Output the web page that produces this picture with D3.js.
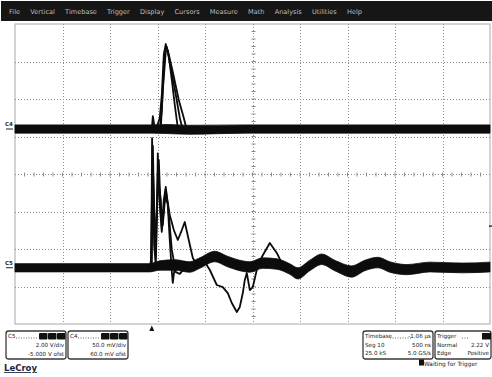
<!DOCTYPE html>
<html><head><meta charset="utf-8">
<script src="https://cdn.jsdelivr.net/npm/d3@7"></script>
<style>
html,body{margin:0;padding:0;background:#fff;}
svg{display:block;font-family:"DejaVu Sans",sans-serif;}
</style></head><body>
<svg id="scope" width="492" height="377"></svg>
<script>
// ---- instrument settings ----
const menuItems = ["File","Vertical","Timebase","Trigger","Display","Cursors","Measure","Math","Analysis","Utilities","Help"];
const timePerDiv = 0.5;      // µs/div
const triggerDelay = -1.06;  // µs
const c4PerDiv = 50;         // mV/div
const c4Offset = 60;         // mV
const c5PerDiv = 2;          // V/div
const c5Offset = -5;         // V
const triggerLevel = 2.22;   // V

// ---- C4 (mV): persistence band [t µs, centre mV, half-width mV] ----
const c4Band = [[-1.44,0,5.5],[0,0,5.5],[0.15,0,6],[0.4,-1,6],[1.0,0,5.5],[2.0,0,5.5],[3.56,0,5.5]];
// C4 pulse acquisitions [t µs, mV]
const c4TraceA = [[0.0,0],[0.011,17],[0.032,0],[0.063,6.7],[0.084,14.7],[0.105,45.3],[0.126,98.7],[0.147,113.3],[0.179,97.3],[0.211,65.3],[0.242,32],[0.274,1.3],[0.305,-2.7],[0.358,0]];
const c4TraceB = [[0.084,1.3],[0.105,25.3],[0.137,105.3],[0.158,109.3],[0.2,81.3],[0.253,45.3],[0.295,14.7],[0.326,-1.3],[0.379,0]];
const c4TraceC = [[0.095,1.3],[0.116,52],[0.147,102.7],[0.168,105.3],[0.221,76],[0.284,38.7],[0.337,14.7],[0.368,-1.3],[0.4,0]];

// ---- C5 (V): persistence band [t µs, centre V, half-width V] ----
const c5Band = [[-1.44,0,0.22],[-0.021,0,0.22],[0.084,0.12,0.25],[0.242,0.15,0.28],[0.4,0.04,0.28],[0.505,0.25,0.28],[0.663,0.6,0.28],[0.789,0.35,0.28],[0.926,0.12,0.28],[1.032,0.04,0.28],[1.168,0.25,0.28],[1.316,0.2,0.28],[1.453,-0.07,0.28],[1.537,-0.3,0.3],[1.663,0.12,0.28],[1.789,0.45,0.28],[1.926,0.12,0.28],[2.105,-0.2,0.3],[2.242,0.12,0.28],[2.379,0.28,0.28],[2.505,0.04,0.28],[2.684,-0.1,0.27],[2.926,0.04,0.26],[3.274,-0.01,0.26],[3.56,0.04,0.26]];
// C5 transient acquisitions [t µs, V]
const c5Trace1 = [[-0.021,0],[-0.005,0.5],[0.003,6.91],[0.013,4.0],[0.025,1.2],[0.042,0.09],[0.055,3.0],[0.063,6.1],[0.074,4.5],[0.095,3.61],[0.105,2.12],[0.126,3.61],[0.147,4.31],[0.168,3.35],[0.189,1.48],[0.211,-0.23],[0.221,-0.81],[0.242,0.09],[0.274,0.31],[0.347,0.31],[0.4,0.09]];
const c5Trace2 = [[-0.011,0],[0.011,6.5],[0.032,0.95],[0.053,3.08],[0.074,5.75],[0.095,2.81],[0.116,2.28],[0.147,4.15],[0.189,2.81],[0.232,2.01],[0.274,1.48],[0.316,2.01],[0.347,2.44],[0.389,1.48],[0.432,0.52],[0.484,0.09]];
const c5Trace3 = [[0,0],[0.011,5.48],[0.042,0.68],[0.063,5.11],[0.084,3.35],[0.105,1.91],[0.137,3.72],[0.168,3.45],[0.211,0.95],[0.253,-0.23],[0.295,-0.33],[0.347,-0.01],[0.453,-0.01],[0.558,0.31],[0.611,-0.12],[0.684,-0.92],[0.747,-1.03],[0.8,-1.35],[0.842,-1.88],[0.895,-2.36],[0.926,-2.09],[0.958,-1.35],[0.979,-0.65],[1.0,-0.28],[1.032,-1.19],[1.063,-1.03],[1.105,-0.12],[1.158,0.57],[1.242,1.32],[1.316,0.79],[1.368,0.25],[1.453,-0.01]];

// ---- readout boxes ----
const c5Readout = ["C5","2.00 V/div","-5.000 V ofst"];
const c4Readout = ["C4","50.0 mV/div","60.0 mV ofst"];
const tbReadout = [["Timebase","-1.06 µs"],["Seg 10","500 ns"],["25.0 kS","5.0 GS/s"]];
const trReadout = [["Trigger",""],["Normal","2.22 V"],["Edge","Positive"]];
const statusText = "Waiting for Trigger";

const svg = d3.select("#scope");
const screen = {l:15, r:490, t:24, b:324};

// ---- scales ----
const tCentre = -triggerDelay;
const x = d3.scaleLinear().domain([tCentre - 5*timePerDiv, tCentre + 5*timePerDiv]).range([screen.l, screen.r]);
const yC4 = d3.scaleLinear().domain([-c4Offset - 4*c4PerDiv, -c4Offset + 4*c4PerDiv]).range([screen.b, screen.t]);
const yC5 = d3.scaleLinear().domain([-c5Offset - 4*c5PerDiv, -c5Offset + 4*c5PerDiv]).range([screen.b, screen.t]);

// ---- menu bar ----
svg.append("rect").attr("x",1).attr("y",1).attr("width",491).attr("height",20).attr("fill","#161616");
const menu = svg.append("g").attr("font-size",6.6).attr("fill","#bdbdbd");
const mNodes = menu.selectAll("text").data(menuItems).join("text").attr("y",13.5).text(d=>d);
{
  const widths = mNodes.nodes().map(n=>n.getComputedTextLength());
  const total = d3.sum(widths);
  const gap = (362 - 9 - total)/(menuItems.length-1);
  let cx = 9;
  mNodes.attr("x",(d,i)=>{const v=cx; cx += widths[i]+gap; return v;});
}

// ---- graticule ----
const grid = svg.append("g");
grid.append("rect").attr("x",screen.l).attr("y",screen.t).attr("width",screen.r-screen.l).attr("height",screen.b-screen.t)
  .attr("fill","#fff").attr("stroke","#a8a8a8").attr("stroke-width",1);
const vDivs = d3.range(1,10).map(i => x.domain()[0] + i*timePerDiv);
const hDivs = d3.range(1,8).map(j => yC5.domain()[0] + j*c5PerDiv);
grid.selectAll("line.v").data(vDivs).join("line").attr("class","v")
  .attr("x1",d=>Math.round(x(d))+0.5).attr("x2",d=>Math.round(x(d))+0.5)
  .attr("y1",screen.t).attr("y2",screen.b)
  .attr("stroke","#8c8c8c").attr("stroke-dasharray","1,2");
grid.selectAll("line.h").data(hDivs).join("line").attr("class","h")
  .attr("y1",d=>Math.round(yC5(d))+0.5).attr("y2",d=>Math.round(yC5(d))+0.5)
  .attr("x1",screen.l).attr("x2",screen.r)
  .attr("stroke","#8c8c8c").attr("stroke-dasharray","1,2");
// minor ticks on centre axes
const cx0 = Math.round(x(tCentre))+0.5, cy0 = Math.round(yC5(-c5Offset))+0.5;
const minorX = d3.range(1,50).map(i => x.domain()[0] + i*timePerDiv/5);
const minorY = d3.range(1,40).map(j => yC5.domain()[0] + j*c5PerDiv/5);
grid.selectAll("line.mx").data(minorX).join("line").attr("class","mx")
  .attr("x1",d=>x(d)).attr("x2",d=>x(d)).attr("y1",cy0-2).attr("y2",cy0+2).attr("stroke","#8c8c8c");
grid.selectAll("line.my").data(minorY).join("line").attr("class","my")
  .attr("y1",d=>yC5(d)).attr("y2",d=>yC5(d)).attr("x1",cx0-2).attr("x2",cx0+2).attr("stroke","#8c8c8c");

// ---- traces ----
const traces = svg.append("g");
function band(data, y){
  return d3.area().curve(d3.curveMonotoneX).x(d=>x(d[0])).y0(d=>y(d[1]-d[2])).y1(d=>y(d[1]+d[2]))(data);
}
function line(data, y){
  return d3.line().x(d=>x(d[0])).y(d=>y(d[1]))(data);
}
traces.append("path").attr("d",band(c4Band,yC4)).attr("fill","#0c0c0c").attr("stroke","#0c0c0c").attr("stroke-width",0.8);
traces.append("path").attr("d",band(c5Band,yC5)).attr("fill","#0c0c0c").attr("stroke","#0c0c0c").attr("stroke-width",0.8);
[c5Trace1,c5Trace2,c5Trace3].forEach(tr=>{
  traces.append("path").attr("d",line(tr,yC5)).attr("fill","none").attr("stroke","#0c0c0c").attr("stroke-width",1.8).attr("stroke-linejoin","round");
});
[c4TraceA,c4TraceB,c4TraceC].forEach(tr=>{
  traces.append("path").attr("d",line(tr,yC4)).attr("fill","none").attr("stroke","#0c0c0c").attr("stroke-width",1.8).attr("stroke-linejoin","round");
});

// ---- channel ground markers ----
const marks = svg.append("g").attr("font-size",5.5).attr("font-weight","bold").attr("fill","#222");
[["C4",yC4(0)],["C5",yC5(0)]].forEach(([lab,yy])=>{
  marks.append("text").attr("x",5).attr("y",yy-3).text(lab);
  marks.append("line").attr("x1",6).attr("x2",13).attr("y1",yy).attr("y2",yy).attr("stroke","#222").attr("stroke-width",1);
});
// trigger level marker on right edge
svg.append("line").attr("x1",489).attr("x2",492).attr("y1",yC5(triggerLevel)).attr("y2",yC5(triggerLevel)).attr("stroke","#333").attr("stroke-width",1.5);
// trigger position marker
const tx = x(0);
svg.append("path").attr("d",`M${tx-2.5},331L${tx+2.5},331L${tx},325.5Z`).attr("fill","#111");

// ---- readout boxes ----
function chanBox(x0, lines){
  const g = svg.append("g").attr("font-size",5.6).attr("fill","#222");
  g.append("rect").attr("x",x0).attr("y",331).attr("width",60).attr("height",28).attr("rx",2.5)
    .attr("fill","#fff").attr("stroke","#3a3a3a").attr("stroke-width",1.3);
  g.append("text").attr("x",x0+2).attr("y",338).text(lines[0]);
  g.append("line").attr("x1",x0+10).attr("x2",x0+32).attr("y1",338).attr("y2",338).attr("stroke","#666").attr("stroke-dasharray","1,1.5");
  [0,9,18].forEach(o=>g.append("rect").attr("x",x0+33+o).attr("y",333).attr("width",8.5).attr("height",6.5).attr("rx",1).attr("fill","#111"));
  g.append("text").attr("x",x0+58).attr("y",347).attr("text-anchor","end").text(lines[1]);
  g.append("text").attr("x",x0+58).attr("y",355.5).attr("text-anchor","end").text(lines[2]);
}
chanBox(6, c5Readout);
chanBox(68, c4Readout);

function infoBox(x0, w, rows, headBlock){
  const g = svg.append("g").attr("font-size",5.6).attr("fill","#222");
  g.append("rect").attr("x",x0).attr("y",331).attr("width",w).attr("height",28).attr("rx",2.5)
    .attr("fill","#fff").attr("stroke","#3a3a3a").attr("stroke-width",1.3);
  rows.forEach((r,i)=>{
    const yy = 338 + i*8.5;
    g.append("text").attr("x",x0+2).attr("y",yy).text(r[0]);
    if(r[1]) g.append("text").attr("x",x0+w-2).attr("y",yy).attr("text-anchor","end").text(r[1]);
  });
  g.append("line").attr("x1",x0+27).attr("x2",x0+w-22).attr("y1",338).attr("y2",338).attr("stroke","#666").attr("stroke-dasharray","1,1.5");
  if(headBlock) g.append("rect").attr("x",x0+w-9).attr("y",333).attr("width",9).attr("height",6.5).attr("fill","#111");
}
infoBox(363, 70, tbReadout, false);
infoBox(435, 56, trReadout, true);

// status line
svg.append("rect").attr("x",419).attr("y",359.5).attr("width",5).attr("height",6).attr("fill","#111");
svg.append("text").attr("x",424).attr("y",365.5).attr("font-size",5.8).attr("fill","#222").text(statusText);

// maker logo
svg.append("text").attr("x",4).attr("y",371).attr("font-size",8.5).attr("font-weight","bold")
  .attr("fill","#1c2444").attr("text-decoration","underline").text("LeCroy");
</script>
</body></html>
